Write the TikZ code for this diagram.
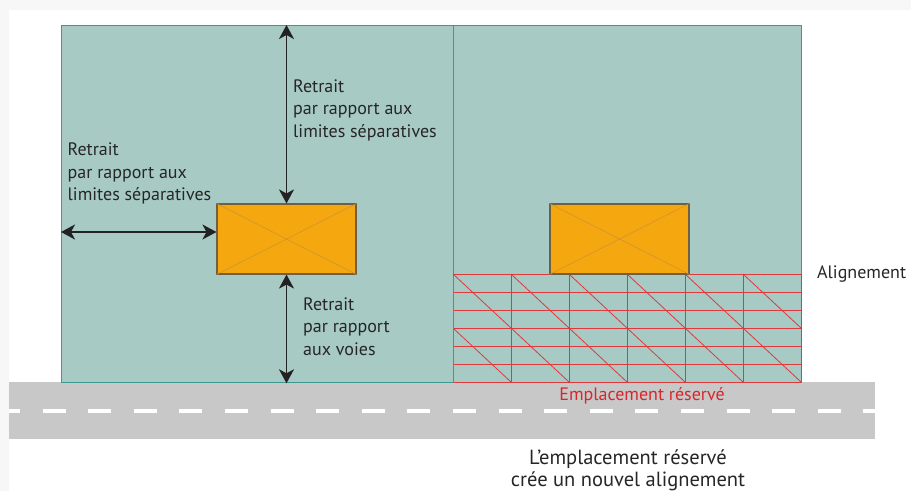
\documentclass[tikz,border=0pt]{standalone}
\usepackage{fontspec}
\setmainfont{PT Sans}
\usetikzlibrary{arrows.meta}
\definecolor{lotfill}{HTML}{A7CAC5}
\definecolor{lotborder}{HTML}{3D9A90}
\definecolor{bldgfill}{HTML}{F5A70F}
\definecolor{bldgborder}{HTML}{6E6040}
\definecolor{crossline}{HTML}{C9903A}
\definecolor{hatchred}{HTML}{E0393B}
\definecolor{roadgray}{HTML}{C8C8C8}
\definecolor{arrowcol}{HTML}{222222}
\definecolor{textcol}{HTML}{262626}
\definecolor{redtext}{HTML}{D8262B}
\definecolor{bggray}{HTML}{F7F7F7}
\begin{document}
\begin{tikzpicture}[x=1pt,y=-1pt,
  lot/.style={draw=lotborder, fill=lotfill, line width=1.3pt, inner sep=0pt, anchor=north west},
  bldg/.style={draw=bldgborder, fill=bldgfill, line width=1.1pt, inner sep=0pt, minimum width=139pt, minimum height=70pt},
  crossl/.style={draw=crossline, line width=0.5pt},
  hatchl/.style={draw=hatchred, line width=0.8pt},
  dimarrow/.style={draw=arrowcol, line width=1.8pt, {Stealth[length=14pt,width=15pt,inset=4pt]}-{Stealth[length=14pt,width=15pt,inset=4pt]}},
  lbl/.style={text=textcol, inner sep=0pt, align=left, font=\fontsize{18}{22.3}\selectfont},
]
\useasboundingbox (0,0) rectangle (911,491);
\fill[bggray] (0,0) rectangle (911,491);
\fill[white] (9,10) rectangle (911,491);
% road
\node[fill=roadgray, inner sep=0pt, minimum width=866pt, minimum height=57pt, anchor=north west] (road) at (9,382) {};
\draw[white, line width=4pt, dash pattern=on 23pt off 22.6pt, dash phase=12pt] (road.west) -- (road.east);
% lots
\node[lot, minimum width=392pt, minimum height=357pt] (lotA) at (61,25) {};
\node[lot, minimum width=348pt, minimum height=357pt] (lotB) at (453,25) {};
% hatch (emplacement reserve)
\foreach \k in {0,...,6} \draw[hatchl] (454,274+18*\k) -- (801,274+18*\k);
\foreach \k in {1,...,6} \draw[hatchl] (453+58*\k,274) -- (453+58*\k,382);
\draw[hatchl] (454,329) -- (511,382);
\foreach \k in {0,...,4} \draw[hatchl] (453+58*\k,274) -- (569+58*\k,382);
\draw[hatchl] (743,274) -- (801,328);
% buildings
\node[bldg] (b1) at (286.5,239) {};
\draw[crossl] (b1.north west) -- (b1.south east) (b1.north east) -- (b1.south west);
\node[bldg] (b2) at (619.5,239) {};
\draw[crossl] (b2.north west) -- (b2.south east) (b2.north east) -- (b2.south west);
% dimension arrows
\coordinate (topA) at (b1.north |- lotA.north);
\coordinate (botA) at (b1.south |- lotA.south);
\coordinate (leftA) at (lotA.west |- 0,232);
\coordinate (leftB) at (b1.west |- 0,232);
\draw[dimarrow] (topA) -- (b1.north);
\draw[dimarrow] (leftA) -- (leftB);
\draw[dimarrow] (b1.south) -- (botA);
% labels
\node[lbl, anchor=north west] (t1) at (293,79.5) {Retrait\\par rapport aux\\limites séparatives};
\node[lbl, anchor=north west] (t2) at (67.5,143) {Retrait\\par rapport aux\\limites séparatives};
\node[lbl, anchor=north west] (t3) at (303,297.5) {Retrait\\par rapport\\aux voies};
\node[lbl, anchor=base west] (t4) at (817,278.3) {Alignement};
\node[lbl, text=redtext, anchor=base] (t5) at (642,400) {Emplacement réservé};
\node[lbl, align=center, anchor=north, font=\fontsize{20.5}{22}\selectfont] (t6) at (628,450) {L’emplacement réservé\\crée un nouvel alignement};
\end{tikzpicture}
\end{document}
